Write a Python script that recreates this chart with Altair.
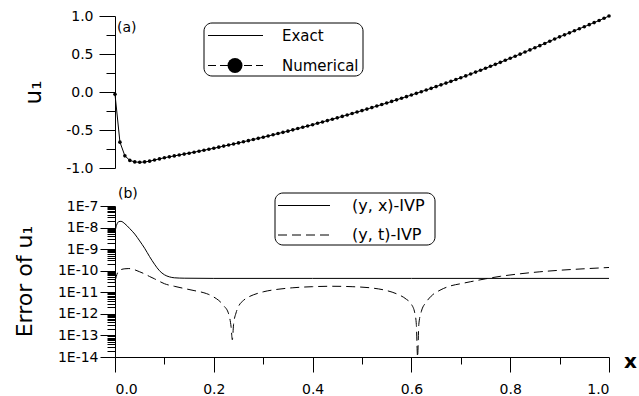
import altair as alt
import pandas as pd

FONT = "DejaVu Sans"

# ---------------- data ----------------
# panel (a): u1 vs x (exact curve and numerical points share these readings)
x_u = [round(i * 0.01, 2) for i in range(101)]
u_vals = [
    -0.03, -0.66, -0.84, -0.90, -0.92, -0.925, -0.92, -0.91, -0.895, -0.88,
    -0.865, -0.853, -0.841, -0.829, -0.817, -0.805, -0.792, -0.779, -0.766, -0.753,
    -0.740, -0.726, -0.712, -0.698, -0.684, -0.670, -0.655, -0.640, -0.625, -0.610,
    -0.595, -0.579, -0.563, -0.547, -0.531, -0.515, -0.498, -0.481, -0.464, -0.447,
    -0.430, -0.412, -0.394, -0.376, -0.358, -0.340, -0.321, -0.302, -0.283, -0.264,
    -0.245, -0.225, -0.205, -0.185, -0.165, -0.145, -0.124, -0.103, -0.082, -0.061,
    -0.040, -0.018, 0.004, 0.026, 0.048, 0.071, 0.094, 0.117, 0.140, 0.164,
    0.188, 0.212, 0.237, 0.262, 0.287, 0.312, 0.338, 0.364, 0.390, 0.417,
    0.444, 0.471, 0.498, 0.526, 0.554, 0.582, 0.610, 0.639, 0.668, 0.697,
    0.726, 0.752, 0.778, 0.805, 0.832, 0.859, 0.886, 0.913, 0.940, 0.970,
    1.000,
]

# panel (b): errors
yx_x = [0.0, 0.003, 0.008, 0.012, 0.02, 0.03, 0.04, 0.05, 0.06, 0.07, 0.08,
        0.09, 0.10, 0.11, 0.12, 0.14, 0.2, 0.4, 0.6, 0.8, 1.0]
yx_err = [6.3e-9, 1.26e-8, 1.9e-8, 1.95e-8, 1.5e-8, 8.9e-9, 5.0e-9, 2.4e-9,
          1.1e-9, 4.5e-10, 2.0e-10, 1.0e-10, 6.5e-11, 5.2e-11, 4.7e-11, 4.5e-11,
          4.4e-11, 4.4e-11, 4.4e-11, 4.4e-11, 4.4e-11]

yt_x = [0.0, 0.005, 0.01, 0.02, 0.028, 0.04, 0.05, 0.06, 0.07, 0.08, 0.09, 0.10,
        0.12, 0.14, 0.16, 0.18, 0.19, 0.20, 0.21, 0.22, 0.23, 0.235, 0.2375, 0.24,
        0.245, 0.25, 0.26, 0.27, 0.28, 0.30, 0.33, 0.36, 0.40, 0.44, 0.48, 0.52,
        0.55, 0.57, 0.59, 0.60, 0.607, 0.61, 0.6125, 0.615, 0.62, 0.63, 0.64, 0.66,
        0.68, 0.70, 0.72, 0.75, 0.78, 0.82, 0.86, 0.90, 0.95, 1.0]
yt_err = [3.2e-11, 7.9e-11, 1.07e-10, 1.23e-10, 1.26e-10, 1.10e-10, 8.9e-11,
          7.1e-11, 5.4e-11, 4.2e-11, 3.2e-11, 2.5e-11, 1.9e-11, 1.5e-11, 1.2e-11,
          9.5e-12, 7.9e-12, 6.0e-12, 4.2e-12, 2.4e-12, 1.0e-12, 2.5e-13, 6.3e-14,
          3.2e-13, 1.1e-12, 2.2e-12, 4.2e-12, 6.0e-12, 7.6e-12, 1.05e-11, 1.38e-11,
          1.62e-11, 1.82e-11, 1.9e-11, 1.82e-11, 1.58e-11, 1.2e-11, 8.5e-12, 4.7e-12,
          2.8e-12, 1.05e-12, 3.2e-13, 1.0e-14, 3.2e-13, 1.26e-12, 3.5e-12, 6.6e-12,
          1.32e-11, 2.0e-11, 2.5e-11, 3.1e-11, 4.2e-11, 5.5e-11, 7.2e-11, 8.9e-11,
          1.05e-10, 1.23e-10, 1.41e-10]

# tick values
x_major = [0.0, 0.2, 0.4, 0.6, 0.8, 1.0]
x_minor = [0.1, 0.3, 0.5, 0.7, 0.9]
u_major = [-1.0, -0.5, 0.0, 0.5, 1.0]
u_minor = [-0.75, -0.25, 0.25, 0.75]
e_major = [1e-14, 1e-13, 1e-12, 1e-11, 1e-10, 1e-9, 1e-8, 1e-7]
e_minor = [k * 10.0 ** e for e in range(-14, -7) for k in range(2, 10)]

df_u = pd.DataFrame({"x": x_u, "u": u_vals})
df_yx = pd.DataFrame({"x": yx_x, "err": yx_err})
df_yt = pd.DataFrame({"x": yt_x, "err": yt_err})

# ---------------- layout ----------------
W, H = 494, 341
TOP_RANGE = [152, 0]
BOT_RANGE = [341, 190]

xscale = alt.Scale(domain=[0, 1], nice=False, zero=False)
uscale = alt.Scale(domain=[-1, 1], range=TOP_RANGE, nice=False, zero=False)
escale = alt.Scale(type="log", domain=[1e-14, 1e-7], range=BOT_RANGE, nice=False)

u_label = "datum.value < 0 ? '-' + format(-datum.value, '.1f') : format(datum.value, '.1f')"
e_label = "'1E-' + round(-log(datum.value) / LN10)"

exact = alt.Chart(df_u).mark_line(color="black", strokeWidth=1).encode(
    x=alt.X("x:Q", scale=xscale, axis=None),
    y=alt.Y("u:Q", scale=uscale, axis=alt.Axis(
        orient="left", values=u_major, tickSize=16, labelPadding=6,
        labelExpr=u_label, labelFontSize=14, title="u₁", titleFontSize=23,
        titleFontWeight="normal", titleX=-82, titleY=76, titleAlign="center",
        titleBaseline="middle", titleAngle=270)),
)

numerical = alt.Chart(df_u).mark_point(filled=True, shape="circle", size=13,
                                        color="black", opacity=1).encode(
    x=alt.X("x:Q", scale=xscale, axis=None),
    y=alt.Y("u:Q", scale=uscale, axis=alt.Axis(
        orient="left", values=u_minor, tickSize=9, labels=False, domain=False,
        title=None)),
)

err_yx = alt.Chart(df_yx).mark_line(color="black", strokeWidth=1,
                                    interpolate="monotone").encode(
    x=alt.X("x:Q", scale=xscale, axis=alt.Axis(
        orient="bottom", values=x_major, tickSize=15, labelPadding=10,
        format=".1f", labelFontSize=14, title="x", titleFontSize=20,
        titleFontWeight="bold", titleX=515, titleY=4, titleAlign="center",
        titleBaseline="middle")),
    y=alt.Y("err:Q", scale=escale, axis=alt.Axis(
        orient="left", values=e_major, tickSize=15, labelPadding=2,
        labelExpr=e_label, labelFontSize=14, title="Error of u₁",
        titleFontSize=22, titleFontWeight="normal", titleX=-91, titleY=265,
        titleAlign="center", titleBaseline="middle", titleAngle=270)),
)

err_yt = alt.Chart(df_yt).mark_line(color="black", strokeWidth=1,
                                    strokeDash=[9, 5], interpolate="monotone").encode(
    x=alt.X("x:Q", scale=xscale, axis=alt.Axis(
        orient="bottom", values=x_minor, tickSize=7, labels=False, domain=False,
        title=None)),
    y=alt.Y("err:Q", scale=escale, axis=alt.Axis(
        orient="left", values=e_minor, tickSize=8, labels=False, domain=False,
        title=None)),
)

one = alt.Data(values=[{"a": 0}])


def box(x1, x2, y1, y2):
    return alt.Chart(one).mark_rect(cornerRadius=8, fill="white", stroke="black",
                                    strokeWidth=1).encode(
        x=alt.value(x1), x2=alt.value(x2), y=alt.value(y1), y2=alt.value(y2))


def seg(x1, x2, y, dash=None):
    kw = {"color": "black", "strokeWidth": 1}
    if dash:
        kw["strokeDash"] = dash
    return alt.Chart(one).mark_rule(**kw).encode(
        x=alt.value(x1), x2=alt.value(x2), y=alt.value(y))


def txt(x, y, s, size=15):
    return alt.Chart(one).mark_text(align="left", baseline="middle", font=FONT,
                                    fontSize=size, color="black").encode(
        x=alt.value(x), y=alt.value(y), text=alt.value(s))


legend_a = [
    box(89, 248, 7, 60),
    seg(93, 148, 19.5),
    txt(167, 19.5, "Exact"),
    seg(93, 148, 49.5, [8, 4]),
    alt.Chart(one).mark_point(filled=True, shape="circle", size=225, color="black",
                              opacity=1).encode(x=alt.value(120), y=alt.value(49.5)),
    txt(167, 49.5, "Numerical"),
]
legend_b = [
    box(160, 320, 177, 229),
    seg(163, 215, 189.5),
    txt(237, 189.5, "(y, x)-IVP", 16),
    seg(163, 218, 219, [9, 5]),
    txt(237, 219, "(y, t)-IVP", 16),
]
labels = [txt(2, 12, "(a)", 14), txt(3, 177.5, "(b)", 14)]

chart = alt.layer(
    exact, numerical, err_yx, err_yt, *legend_a, *legend_b, *labels
).resolve_scale(x="independent", y="independent").properties(
    width=W, height=H,
    padding={"left": 115, "top": 16, "right": 30, "bottom": 39},
    autosize=alt.AutoSizeParams(type="none"),
).configure_view(stroke=None).configure_axis(
    grid=False, domainColor="black", tickColor="black", labelColor="black",
    titleColor="black", labelFont=FONT, titleFont=FONT, tickWidth=1,
    domainWidth=1,
)

chart.save("out.html", embed_options={"renderer": "svg", "actions": False})
